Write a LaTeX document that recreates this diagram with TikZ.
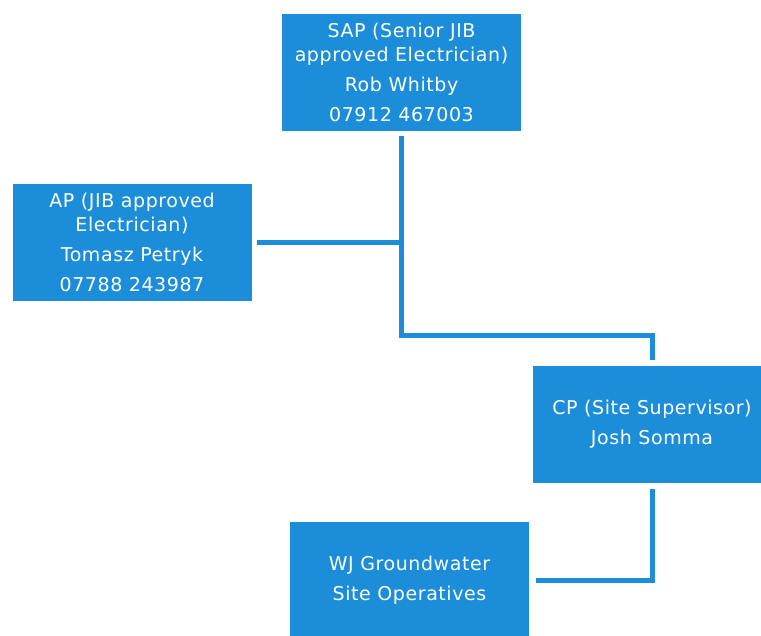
\documentclass[tikz,border=0pt]{standalone}
\usepackage{fontspec}
\setmainfont{DejaVu Sans}[LetterSpace=3]
\definecolor{boxblue}{RGB}{28,141,217}
\begin{document}
\begin{tikzpicture}[x=1pt,y=-1pt,
  orgbox/.style={fill=boxblue, draw=none, text=white, minimum width=239pt, minimum height=117pt,
    inner sep=0pt, align=center, font=\fontsize{19}{24}\selectfont},
  conn/.style={draw=boxblue, line width=5pt, line join=miter}]
\useasboundingbox (0,0) rectangle (761,636);
\clip (0,0) rectangle (761,636);
\node[orgbox] (sap) at (401.5,72.5) {SAP (Senior JIB\\approved Electrician)\\[6pt]Rob Whitby\\[6pt]07912 467003};
\node[orgbox] (ap) at (132,242.5) {AP (JIB approved\\Electrician)\\[6pt]Tomasz Petryk\\[6pt]07788 243987};
\node[orgbox] (cp) at (652,424.5) {CP (Site Supervisor)\\[6pt]Josh Somma};
\node[orgbox] (wj) at (409.5,580.5) {WJ Groundwater\\[6pt]Site Operatives};
\coordinate (j1) at (402,336);
\draw[conn, shorten <=5pt, shorten >=6pt] (sap.south) -- (sap.south |- j1) -| (cp.north);
\draw[conn, shorten <=5pt] (ap.east) -- (ap.east -| sap.south);
\draw[conn, shorten <=6pt, shorten >=7pt] (cp.south) |- (wj.east);
\end{tikzpicture}
\end{document}
